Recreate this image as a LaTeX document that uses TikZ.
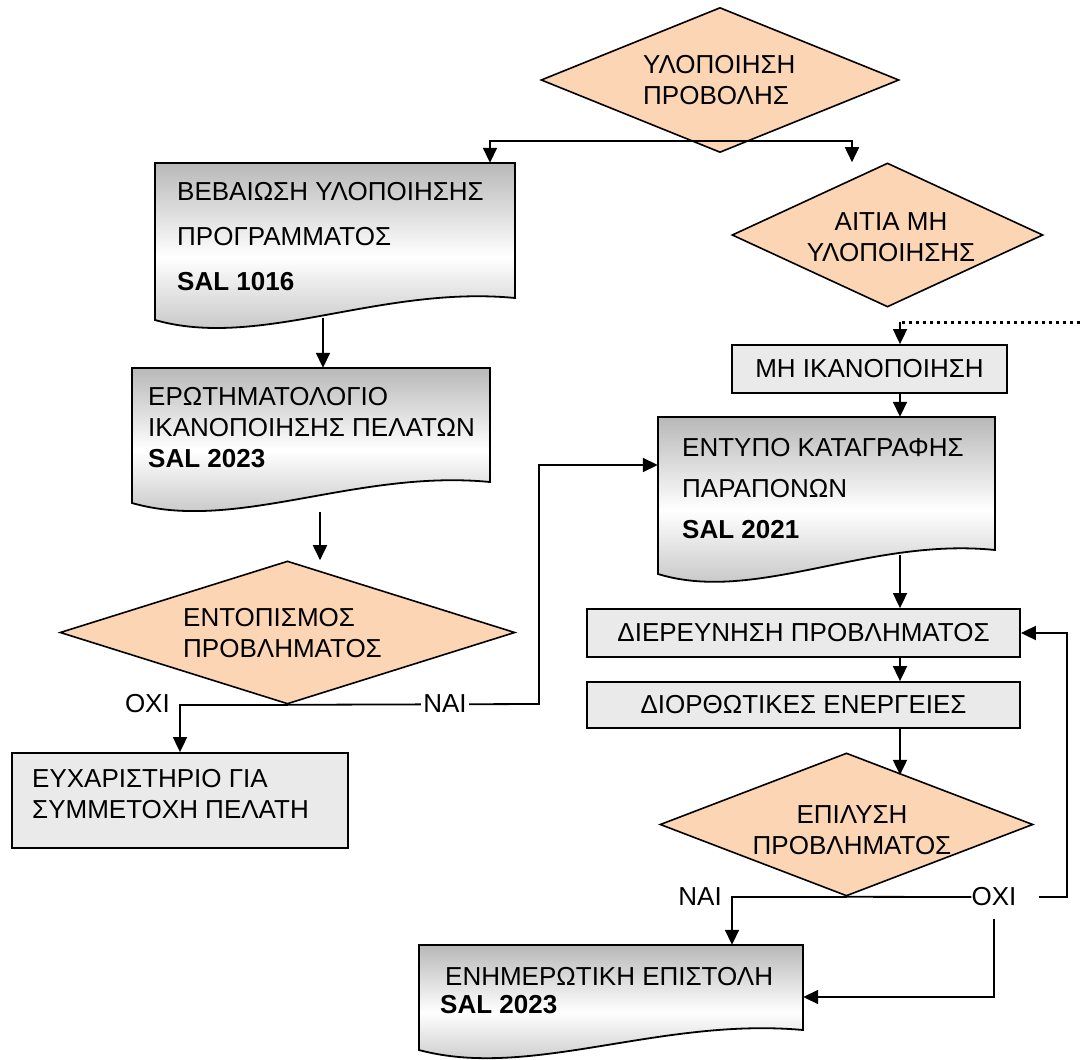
\documentclass[tikz,border=0pt]{standalone}
\usepackage{fontspec}
\setmainfont{Liberation Sans}
\usetikzlibrary{arrows.meta,calc,shapes.geometric}

\definecolor{peach}{RGB}{252,213,181}
\definecolor{boxgray}{RGB}{234,234,234}
\definecolor{docgray}{RGB}{184,184,184}

% Document symbol: box with a wavy lower edge, filled with a vertical gradient.
% #1 name, #2 left, #3 top, #4 right, #5 bottom at the right edge, #6 bottom at the left edge
\newcommand{\docshape}[6]{%
  \pgfmathsetmacro\dW{#4-#2}%
  \pgfmathsetmacro\dH{#5-#3}%
  \pgfmathsetmacro\cAx{#2+0.29*\dW}%
  \pgfmathsetmacro\cAy{#6+30}%
  \pgfmathsetmacro\cBx{#2+0.625*\dW}%
  \pgfmathsetmacro\cBy{#5-13}%
  \draw[docfill] (#2,#3) -- (#4,#3) -- (#4,#5)
     .. controls (\cBx,\cBy) and (\cAx,\cAy) .. (#2,#6) -- cycle;
  \node[inner sep=0, minimum width=\dW pt, minimum height=\dH pt] (#1)
     at ({(#2+#4)/2},{(#3+#5)/2}) {};
}

\begin{document}
\begin{tikzpicture}[x=1pt, y=-1pt,
  font=\fontsize{26}{31}\selectfont,
  arr/.style={-{Triangle[length=15pt,width=14pt]}, line width=1.8pt},
  link/.style={line width=1.8pt},
  dotlink/.style={line width=3pt, dash pattern=on 3.5pt off 3.5pt},
  decision/.style={diamond, draw, fill=peach, inner sep=0, line width=1.6pt},
  procbox/.style={rectangle, draw, fill=boxgray, line width=1.8pt, inner sep=0},
  docfill/.style={draw, line width=1.8pt, top color=docgray, bottom color=docgray, middle color=white},
  txt/.style={inner sep=0, align=left},
  lbl/.style={inner sep=0},
]
\useasboundingbox (0,0) rectangle (1080,1060);
\fill[white] (0,0) rectangle (1080,1060);

% ---------- decisions ----------
\node[decision, minimum width=358pt, minimum height=145pt] (D0) at (720,80) {};
\node[txt, anchor=north west] (D0t) at (643,55) {ΥΛΟΠΟΙΗΣΗ\\ΠΡΟΒΟΛΗΣ};

\node[decision, minimum width=311pt, minimum height=144pt] (D1) at (887.5,235) {};
\node[txt, align=center, anchor=north] (D1t) at (891,212) {ΑΙΤΙΑ ΜΗ\\ΥΛΟΠΟΙΗΣΗΣ};

\node[decision, minimum width=455pt, minimum height=143pt] (ED) at (287.5,632.5) {};
\node[txt, anchor=north west] (EDt) at (183,608) {ΕΝΤΟΠΙΣΜΟΣ\\ΠΡΟΒΛΗΜΑΤΟΣ};

\node[decision, minimum width=373pt, minimum height=143pt] (EP) at (846.5,824.5) {};
\node[txt, align=center, anchor=north] (EPt) at (852,805) {ΕΠΙΛΥΣΗ\\ΠΡΟΒΛΗΜΑΤΟΣ};

% ---------- documents ----------
\docshape{d1}{155}{163}{515}{298}{320}
\node[txt, anchor=north west] (d1t) at (177,182)
  {ΒΕΒΑΙΩΣΗ ΥΛΟΠΟΙΗΣΗΣ\\[14pt]ΠΡΟΓΡΑΜΜΑΤΟΣ\\[14pt]\textbf{SAL 1016}};

\docshape{d2}{132}{368}{490}{482}{503}
\node[txt, anchor=north west] (d2t) at (148,387)
  {ΕΡΩΤΗΜΑΤΟΛΟΓΙΟ\\ΙΚΑΝΟΠΟΙΗΣΗΣ ΠΕΛΑΤΩΝ\\\textbf{SAL 2023}};

\docshape{d3}{658}{417}{995}{550}{574}
\node[txt, anchor=north west] (d3t) at (682,438)
  {ΕΝΤΥΠΟ ΚΑΤΑΓΡΑΦΗΣ\\[10pt]ΠΑΡΑΠΟΝΩΝ\\[10pt]\textbf{SAL 2021}};

\docshape{d4}{419}{945}{803}{1030}{1050}
\node[txt, anchor=north west] (d4t) at (440,967)
  {\hspace*{5pt}ΕΝΗΜΕΡΩΤΙΚΗ ΕΠΙΣΤΟΛΗ\\[-3pt]\textbf{SAL 2023}};

% ---------- process boxes ----------
\node[procbox, minimum width=275pt, minimum height=48pt] (MH) at (869.5,369) {ΜΗ ΙΚΑΝΟΠΟΙΗΣΗ};
\node[procbox, minimum width=433pt, minimum height=48pt] (DI) at (803.5,633) {ΔΙΕΡΕΥΝΗΣΗ ΠΡΟΒΛΗΜΑΤΟΣ};
\node[procbox, minimum width=433pt, minimum height=46pt] (DO) at (803.5,705) {ΔΙΟΡΘΩΤΙΚΕΣ ΕΝΕΡΓΕΙΕΣ};
\node[procbox, minimum width=336pt, minimum height=95pt] (E) at (180,800.5) {};
\node[txt, anchor=north west] (Et) at (32,769) {ΕΥΧΑΡΙΣΤΗΡΙΟ ΓΙΑ\\ΣΥΜΜΕΤΟΧΗ ΠΕΛΑΤΗ};

% ---------- connectors ----------
% split below the first decision
\draw[arr] ([yshift=12.5pt]D0.south) -| ([xshift=155pt]d1.north);
\draw[arr] ([yshift=12.5pt]D0.south) -| ([xshift=-35.5pt]D1.north);

% left column
\draw[arr] ([xshift=-12pt,yshift=-20pt]d1.south) -- ([xshift=-12pt]d1.south |- d2.north);
\draw[arr] ([xshift=9pt,yshift=-30pt]d2.south) -- ([xshift=9pt]d2.south |- ED.north);

% outcomes of ΕΝΤΟΠΙΣΜΟΣ
\coordinate (yesTurn) at (539,704);
\draw[arr] (ED.south) -| (E.north);
\draw[arr] (ED.south) -- (yesTurn) |- ([yshift=18.5pt]d3.west);
\node[lbl, anchor=east] (noE) at (170,704) {ΟΧΙ};
\node[lbl, fill=white, inner xsep=2pt] (yesE) at (445,704) {ΝΑΙ};

% right column
\coordinate (dotEnd) at (1080,322);
\draw[dotlink] (dotEnd) -- ([xshift=30.5pt]MH.north |- dotEnd);
\draw[arr] ([xshift=30.5pt]MH.north |- dotEnd) -- ([xshift=30.5pt]MH.north);
\draw[arr] ([xshift=30.5pt]MH.south) -- ([xshift=30.5pt]MH.south |- d3.north);
\draw[arr] ([xshift=73.5pt,yshift=-5pt]d3.south) -- ([xshift=73.5pt]d3.south |- DI.north);
\draw[arr] ([xshift=96.5pt]DI.south) -- ([xshift=96.5pt]DO.north);
\draw[arr] ([xshift=96.5pt]DO.south) -- ([xshift=96.5pt,yshift=-46pt]DO.south);

% outcomes of ΕΠΙΛΥΣΗ
\node[lbl, anchor=east] (yesP) at (722,897) {ΝΑΙ};
\node[lbl] (noP) at (994,897) {ΟΧΙ};
\coordinate (loopR) at (1067,897);
\draw[arr] (EP.south) -| ([xshift=121pt]d4.north);
\draw[link] (EP.south) -- (noP.west);
\draw[arr] ([xshift=22pt]noP.east) -- (loopR) |- (DI.east);
\draw[arr] ([yshift=-13pt]noP.south) |- ([yshift=-9.5pt]d4.east);

\end{tikzpicture}
\end{document}
